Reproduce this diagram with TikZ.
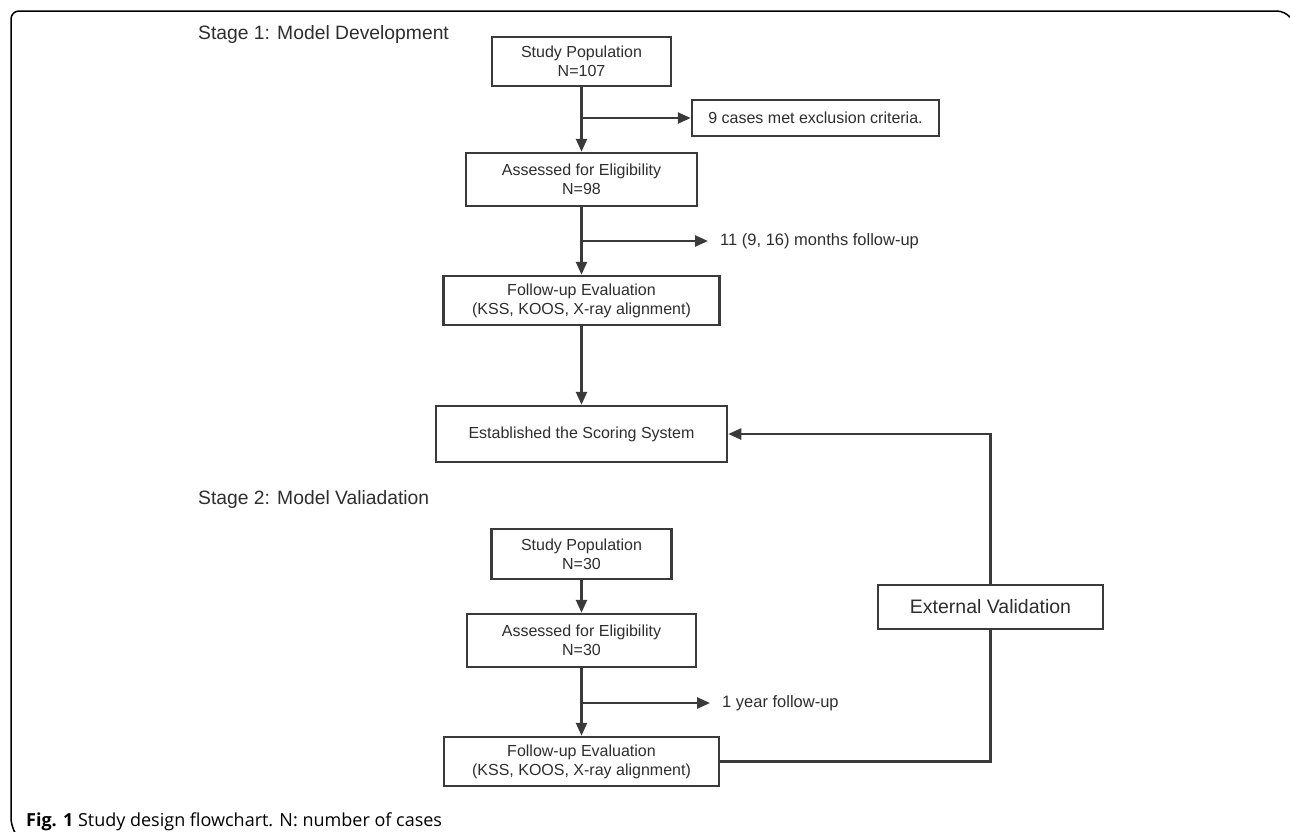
\documentclass[tikz,border=0pt]{standalone}
\usepackage{fontspec}
\setmainfont{Liberation Sans}
\newfontfamily\capfont{Open Sans}
\usetikzlibrary{arrows.meta}
\definecolor{ln}{HTML}{3A3A3A}
\definecolor{tx}{HTML}{2E2E2E}
\tikzset{
  box/.style={draw=ln, line width=2.5pt, fill=white, text=tx, align=center, inner sep=0pt, font=\fontsize{16}{19}\selectfont},
  arr/.style={draw=ln, line width=2.5pt, -{Triangle[length=13pt,width=11pt]}},
  ln/.style={draw=ln, line width=2.5pt},
  lbl/.style={text=tx, anchor=west, inner xsep=12pt, inner ysep=0pt, font=\fontsize{16.5}{20}\selectfont},
  ttl/.style={text=tx, anchor=west, inner sep=0pt, font=\fontsize{19.3}{22}\selectfont}
}
\begin{document}
\begin{tikzpicture}[x=1pt,y=-1pt]
\useasboundingbox (0,0) rectangle (1290,831);
% frame
\draw[black, line width=1.5pt, rounded corners=8pt] (14,831) -- (11,826) -- (11,11) -- (1285,11) -- (1289,16);
% titles
\node[ttl] (t1) at (198,35) {Stage 1: Model Development};
\node[ttl] (t2) at (198,499) {Stage 2: Model Valiadation};
% stage 1
\node[box, minimum width=179pt, minimum height=49pt] (b1) at (581.5,61.5) {Study Population\\N=107};
\node[box, minimum width=247pt, minimum height=36pt] (ex) at (815.5,118) {9 cases met exclusion criteria.};
\node[box, minimum width=231pt, minimum height=53pt] (b2) at (581.5,179.5) {Assessed for Eligibility\\N=98};
\node[box, minimum width=276pt, minimum height=49pt] (b3) at (581.5,300.5) {Follow-up Evaluation\\(KSS, KOOS, X-ray alignment)};
\node[box, minimum width=291pt, minimum height=56pt] (b4) at (581.5,434) {Established the Scoring System};
\node[lbl] (l1) at (708,241) {11 (9, 16) months follow-up};
% stage 2
\node[box, minimum width=180pt, minimum height=50pt] (b5) at (581.5,554) {Study Population\\N=30};
\node[box, minimum width=229pt, minimum height=53pt] (b6) at (581.5,640.5) {Assessed for Eligibility\\N=30};
\node[box, minimum width=275pt, minimum height=49pt] (b7) at (581.5,761.5) {Follow-up Evaluation\\(KSS, KOOS, X-ray alignment)};
\node[box, minimum width=225pt, minimum height=44pt, font=\fontsize{19.5}{22}\selectfont] (ev) at (990.5,607) {External Validation};
\node[lbl] (l2) at (710,703) {1 year follow-up};
% caption
\node[anchor=west, inner sep=0pt, text=black, font=\capfont\fontsize{18}{21}\selectfont] (cap) at (26,822) {\textbf{Fig. 1} Study design flowchart. N: number of cases};
% connectors
\coordinate (j1) at (b1.south |- ex.west);
\coordinate (j2) at (b2.south |- l1.west);
\coordinate (j3) at (b6.south |- l2.west);
\draw[arr] (b1) -- (b2);
\draw[arr] (j1) -- (ex.west);
\draw[arr] (b2) -- (b3);
\draw[arr] (j2) -- (l1.west);
\draw[arr] (b3) -- (b4);
\draw[arr] (b5) -- (b6);
\draw[arr] (b6) -- (b7);
\draw[arr] (j3) -- (l2.west);
\draw[ln] (b7.east) -| (ev.south);
\draw[arr] (ev.north) |- (b4.east);
\end{tikzpicture}
\end{document}
